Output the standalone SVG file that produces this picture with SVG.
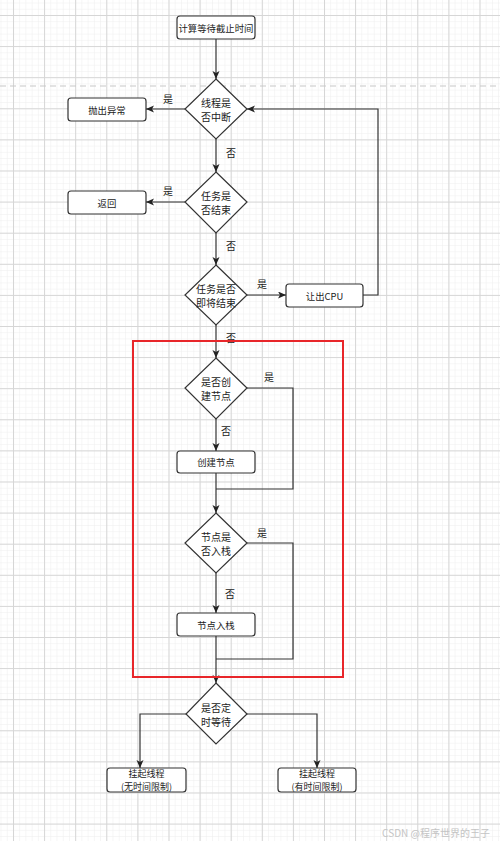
<svg xmlns="http://www.w3.org/2000/svg" width="500" height="841" viewBox="0 0 500 841">
<style>
.node{fill:#fff;stroke:#333;stroke-width:1.2}
.t{font-family:"Noto Sans CJK SC","Noto Sans",sans-serif;font-size:9.4px;fill:#222;text-anchor:middle;dominant-baseline:central}
.t2{font-family:"Noto Sans CJK SC","Noto Sans",sans-serif;font-size:9px;fill:#222;text-anchor:middle;dominant-baseline:central}
.td{font-family:"Noto Sans CJK SC","Noto Sans",sans-serif;font-size:10px;fill:#222;text-anchor:middle;dominant-baseline:central}
.lbl{font-family:"Noto Sans CJK SC","Noto Sans",sans-serif;font-size:10px;fill:#222;text-anchor:middle;dominant-baseline:central}
.c{fill:none;stroke:#333;stroke-width:1.2}
.ca{fill:none;stroke:#333;stroke-width:1.2;marker-end:url(#arr)}
</style>
<defs>
<pattern id="minor" patternUnits="userSpaceOnUse" x="13" y="15" width="6.22" height="6.22">
<path d="M0,0 H6.22 M0,0 V6.22" fill="none" stroke="#ededed" stroke-width="1"/>
</pattern>
<pattern id="major" patternUnits="userSpaceOnUse" x="13" y="15" width="31.1" height="31.1">
<path d="M0,0.5 H31.1 M0.5,0 V31.1" fill="none" stroke="#d6d6d6" stroke-width="1"/>
</pattern>
<marker id="arr" markerUnits="userSpaceOnUse" markerWidth="9" markerHeight="8" refX="8" refY="3.5" orient="auto">
<path d="M0,0 L8,3.5 L0,7 L2,3.5 z" fill="#222"/>
</marker>
</defs>
<rect width="500" height="841" fill="#fff"/>
<rect width="500" height="841" fill="url(#minor)"/>
<rect width="500" height="841" fill="url(#major)"/>
<line x1="0" y1="86" x2="500" y2="86" stroke="#c8c8c8" stroke-width="1.2" stroke-dasharray="6,4"/>

<g id="connectors">
<path class="ca" d="M216,39 V79"/>
<path class="ca" d="M185,109 H146"/>
<path class="ca" d="M216,139 V172"/>
<path class="ca" d="M185,202 H146"/>
<path class="ca" d="M216,233 V265"/>
<path class="ca" d="M247,295 H286"/>
<path class="ca" d="M363,295 H378 V109 H247"/>
<path class="ca" d="M216,325 V358"/>
<path class="ca" d="M216,419 V451"/>
<path class="c" d="M247,388 H293 V489 H216"/>
<path class="ca" d="M216,473 V513"/>
<path class="ca" d="M216,573 V613"/>
<path class="c" d="M247,543 H293 V659 H216"/>
<path class="ca" d="M216,636 V683"/>
<path class="ca" d="M186,714 H140 V768"/>
<path class="ca" d="M247,714 H317 V768"/>
<text class="lbl" x="168" y="98">是</text>
<text class="lbl" x="231" y="152">否</text>
<text class="lbl" x="168" y="190">是</text>
<text class="lbl" x="231" y="245">否</text>
<text class="lbl" x="262" y="283">是</text>
<text class="lbl" x="231" y="337">否</text>
<text class="lbl" x="269" y="376">是</text>
<text class="lbl" x="226" y="430">否</text>
<text class="lbl" x="262" y="532">是</text>
<text class="lbl" x="230" y="593">否</text>
</g>

<rect id="group-box" x="133" y="341" width="210" height="336" fill="none" stroke="#e8262a" stroke-width="2"/>

<g id="start"><rect class="node" x="177" y="16" width="78" height="23" rx="3"/><text class="t" x="216" y="27.5">计算等待截止时间</text></g>
<g id="d-interrupt"><path class="node" d="M216,79 L247,109 L216,139 L185,109 Z"/><text class="td" x="216" y="102">线程是</text><text class="td" x="216" y="116">否中断</text></g>
<g id="throw"><rect class="node" x="68" y="98" width="78" height="23" rx="3"/><text class="t" x="107" y="109.5">抛出异常</text></g>
<g id="d-done"><path class="node" d="M216,172 L247,202 L216,233 L185,202 Z"/><text class="td" x="216" y="195">任务是</text><text class="td" x="216" y="209">否结束</text></g>
<g id="return"><rect class="node" x="68" y="191" width="78" height="23" rx="3"/><text class="t" x="107" y="202.5">返回</text></g>
<g id="d-soon"><path class="node" d="M216,265 L247,295 L216,325 L185,295 Z"/><text class="td" x="216" y="288">任务是否</text><text class="td" x="216" y="302">即将结束</text></g>
<g id="yield"><rect class="node" x="286" y="284" width="77" height="23" rx="3"/><text class="t" x="324.5" y="295.5">让出CPU</text></g>
<g id="d-create"><path class="node" d="M216,358 L247,388 L216,419 L185,388 Z"/><text class="td" x="216" y="381">是否创</text><text class="td" x="216" y="395">建节点</text></g>
<g id="create"><rect class="node" x="177" y="451" width="78" height="22" rx="3"/><text class="t" x="216" y="462">创建节点</text></g>
<g id="d-push"><path class="node" d="M216,513 L247,543 L216,573 L185,543 Z"/><text class="td" x="216" y="536">节点是</text><text class="td" x="216" y="550">否入栈</text></g>
<g id="push"><rect class="node" x="177" y="613" width="78" height="23" rx="3"/><text class="t" x="216" y="624.5">节点入栈</text></g>
<g id="d-timed"><path class="node" d="M216,683 L247,714 L216,744 L186,714 Z"/><text class="td" x="216" y="707">是否定</text><text class="td" x="216" y="721">时等待</text></g>
<g id="park-nolimit"><rect class="node" x="107" y="768" width="79" height="24" rx="3"/><text class="t2" x="146.5" y="773.5">挂起线程</text><text class="t2" x="146.5" y="786.5">(无时间限制)</text></g>
<g id="park-limit"><rect class="node" x="278" y="768" width="78" height="24" rx="3"/><text class="t2" x="317" y="773.5">挂起线程</text><text class="t2" x="317" y="786.5">(有时间限制)</text></g>

<text x="490" y="832" font-family="Noto Sans CJK SC,Noto Sans,sans-serif" font-size="10" fill="#c4c4c4" text-anchor="end" dominant-baseline="central">CSDN @程序世界的王子</text>
</svg>
